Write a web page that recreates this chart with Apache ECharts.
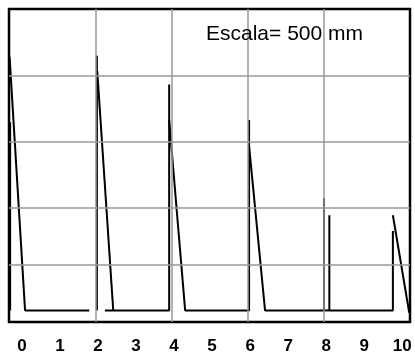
<!DOCTYPE html>
<html>
<head>
<meta charset="utf-8">
<script src="https://cdn.jsdelivr.net/npm/echarts@6/dist/echarts.min.js"></script>
<style>html,body{margin:0;padding:0;background:#fff;}#c{width:415px;height:355px;}</style>
</head>
<body>
<div id="c"></div>
<script>
// tick labels along the bottom
var xLabels = [0, 1, 2, 3, 4, 5, 6, 7, 8, 9, 10];
// grid lines
var gridX = [2, 4, 6, 8];
var gridY = [18.4, 36.4, 57.6, 78.7];
// trace pieces [x, y] (y in % of plot height)
var traceA = [[-0.265, 84.8], [0.142, 3.7], [1.83, 3.7]];
var traceB = [[-0.25, 63.8], [-0.25, 3.7]];
var traceC = [[2.03, 3.7], [2.03, 85.1]];
var traceD = [[2.04, 80.1], [2.46, 3.7]];
var traceE = [[2.24, 3.7], [3.93, 3.7], [3.93, 75.9]];
var traceF = [[3.93, 64.4], [4.35, 3.7], [6.03, 3.7], [6.03, 64.5]];
var traceG = [[6.03, 56.3], [6.45, 3.7], [8.0, 3.7], [8.0, 39.6]];
var traceH = [[8.14, 34.1], [8.14, 3.7], [9.81, 3.7], [9.81, 29.1]];
var traceI = [[8.0, 3.7], [8.14, 3.7]];
var traceJ = [[9.81, 34.1], [10.24, 2.9]];
var scaleText = 'Escala= 500 mm';

var traces = [traceA, traceB, traceC, traceD, traceE, traceF, traceG, traceH, traceI, traceJ];

var chart = echarts.init(document.getElementById('c'), null, {renderer: 'canvas'});
var series = [{
  type: 'line', data: [], xAxisIndex: 0, yAxisIndex: 0, z: 1, silent: true,
  markLine: {
    silent: true, symbol: 'none', animation: false,
    label: {show: false},
    lineStyle: {color: '#999', width: 1.5, type: 'solid'},
    emphasis: {disabled: true},
    data: gridX.map(function (v) { return {xAxis: v}; })
      .concat(gridY.map(function (v) { return {yAxis: v}; }))
  }
}];
traces.forEach(function (t) {
  series.push({
    type: 'line', data: t, xAxisIndex: 0, yAxisIndex: 0, z: 3,
    symbol: 'none', silent: true, animation: false,
    lineStyle: {color: '#000', width: 2}
  });
});

chart.setOption({
  animation: false,
  grid: {left: 9, right: 5, top: 9, bottom: 31, show: true, borderColor: '#000', borderWidth: 2.5, backgroundColor: '#fff'},
  xAxis: [{
    type: 'value', min: -0.28, max: 10.26,
    axisLine: {show: false}, axisTick: {show: false}, axisLabel: {show: false}, splitLine: {show: false}
  }, {
    type: 'value', min: -0.338, max: 10.202, position: 'bottom',
    axisLine: {show: false}, axisTick: {show: false}, splitLine: {show: false},
    axisLabel: {
      show: true, customValues: xLabels, margin: 16,
      fontFamily: 'Liberation Sans', fontWeight: 'bold', fontSize: 17, color: '#000'
    }
  }],
  yAxis: {type: 'value', min: 0, max: 100, show: false, splitLine: {show: false}},
  series: series,
  graphic: [{
    type: 'text', left: 206, top: 24, z: 10,
    style: {text: scaleText, fill: '#000', font: '21px "Liberation Sans", Arial, sans-serif'}
  }]
});
</script>
</body>
</html>
